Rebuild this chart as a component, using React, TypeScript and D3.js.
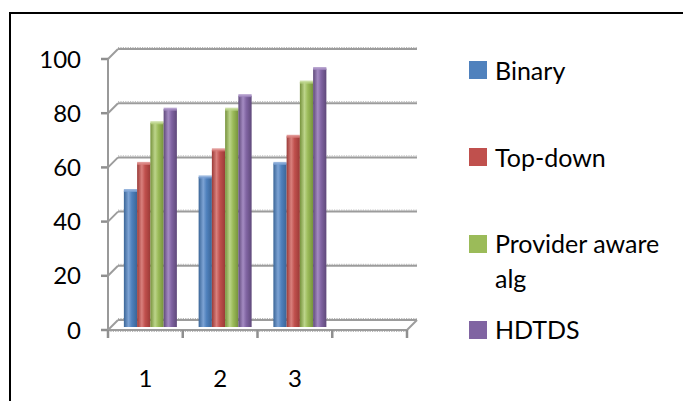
import React from "react";
import * as d3 from "d3";

const categories = ["1", "2", "3", ""];
const seriesNames = ["Binary", "Top-down", "Provider aware alg", "HDTDS"];
const binary = [50, 55, 60];
const topDown = [60, 65, 70];
const providerAware = [75, 80, 90];
const hdtds = [80, 85, 95];
const yTicks = [0, 20, 40, 60, 80, 100];
const colors = ["#4F81BD", "#C0504D", "#9BBB59", "#8064A2"];
const darkColors = ["#3A6597", "#9B3A37", "#76923C", "#5F497A"];
const lightColors = ["#7DA3D4", "#D9807D", "#BCD48A", "#A48BC2"];

const W = 683;
const H = 401;
const FONT = "Lato, 'Open Sans', sans-serif";

export default function App() {
  const values = [binary, topDown, providerAware, hdtds];
  const x = d3.scaleBand<string>().domain(categories).range([108, 407]).padding(0);
  const y = d3.scaleLinear().domain([0, 100]).range([330, 59]);
  const DX = 10;
  const DY = -10;
  const inner = d3.scaleBand<string>().domain(seriesNames).range([-26.5, 26.5]).padding(0);
  const x0 = 108;
  const x1 = 407;

  const gridLine = (yy: number, key: string) => (
    <g key={key}>
      <line x1={x0 + DX} x2={x1 + DX} y1={yy + DY} y2={yy + DY} stroke="#9c9c9c" strokeWidth={2} />
      <line x1={x0 + DX} x2={x1 + DX} y1={yy + DY - 1.5} y2={yy + DY - 1.5} stroke="#b5b5b5" strokeWidth={1} strokeDasharray="1.2,1.2" />
      <line x1={x0} y1={yy} x2={x0 + DX} y2={yy + DY} stroke="#9c9c9c" strokeWidth={2} />
      <line x1={x0 - 7} x2={x0} y1={yy} y2={yy} stroke="#8f8f8f" strokeWidth={2.5} />
    </g>
  );

  return (
    <svg width={W} height={H} style={{ position: "absolute", left: 0, top: 0, background: "#fff" }}>
      <defs>
        {colors.map((c, i) => (
          <linearGradient key={i} id={`g${i}`} x1="0" x2="1" y1="0" y2="0">
            <stop offset="0" stopColor={darkColors[i]} />
            <stop offset="0.35" stopColor={lightColors[i]} />
            <stop offset="0.6" stopColor={c} />
            <stop offset="1" stopColor={darkColors[i]} />
          </linearGradient>
        ))}
      </defs>
      <rect x={0} y={0} width={W} height={H} fill="#fff" />
      {/* frame */}
      <line x1={10} y1={13} x2={W} y2={13} stroke="#000" strokeWidth={2} />
      <line x1={10} y1={12} x2={10} y2={H} stroke="#000" strokeWidth={2} />

      {/* back gridlines and left diagonals */}
      {yTicks.map((t) => gridLine(y(t), `g${t}`))}

      {/* right floor diagonal */}
      <line x1={x1} y1={y(0)} x2={x1 + DX} y2={y(0) + DY} stroke="#9c9c9c" strokeWidth={2} />

      {/* front y axis */}
      <line x1={x0} x2={x0} y1={y(100)} y2={y(0) + 8} stroke="#999" strokeWidth={2} />

      {/* bars */}
      {categories.slice(0, 3).map((cat, ci) => {
        const cx = (x(cat) as number) + x.bandwidth() / 2 + DX / 2;
        return (
          <g key={cat}>
            {seriesNames.map((s, si) => {
              const v = values[si][ci];
              const bx = cx + (inner(s) as number);
              const bw = inner.bandwidth();
              const top = y(v) + DY / 2 + 1;
              const bottom = y(0) + DY / 2 + 2;
              return (
                <g key={s}>
                  <rect x={bx} y={top} width={bw} height={bottom - top} fill={`url(#g${si})`} />
                  <rect x={bx} y={top - 1.5} width={bw} height={3} fill={lightColors[si]} opacity={0.8} />
                </g>
              );
            })}
          </g>
        );
      })}

      {/* front floor line */}
      <line x1={x0} x2={x1} y1={y(0)} y2={y(0)} stroke="#9c9c9c" strokeWidth={2} />
      <line x1={x0} x2={x1} y1={y(0) + 1.5} y2={y(0) + 1.5} stroke="#b5b5b5" strokeWidth={1} strokeDasharray="1.2,1.2" />
      {[...categories.map((c) => x(c) as number), x1].map((tx, i) => (
        <line key={i} x1={tx} x2={tx} y1={y(0)} y2={y(0) + 8} stroke="#8f8f8f" strokeWidth={2.5} />
      ))}

      {/* y labels */}
      {yTicks.map((t) => (
        <text key={t} x={81} y={y(t)} dy="0.36em" textAnchor="end" fontFamily={FONT} fontSize={24} fill="#000">
          {t}
        </text>
      ))}

      {/* x labels */}
      {categories.slice(0, 3).map((c) => (
        <text key={c} x={(x(c) as number) + x.bandwidth() / 2} y={387} textAnchor="middle" fontFamily={FONT} fontSize={24} fill="#000">
          {c}
        </text>
      ))}

      {/* legend */}
      {[
        { lines: ["Binary"], sy: 61, by: 80 },
        { lines: ["Top-down"], sy: 148, by: 167 },
        { lines: ["Provider aware", "alg"], sy: 235, by: 253 },
        { lines: ["HDTDS"], sy: 321, by: 339 },
      ].map((l, i) => (
        <g key={i}>
          <rect x={469} y={l.sy} width={18} height={18} fill={colors[i]} />
          <text x={495} y={l.by} fontFamily={FONT} fontSize={25} fill="#000">
            {l.lines.map((ln, j) => (
              <tspan key={j} x={495} dy={j === 0 ? 0 : 35}>
                {ln}
              </tspan>
            ))}
          </text>
        </g>
      ))}
    </svg>
  );
}
